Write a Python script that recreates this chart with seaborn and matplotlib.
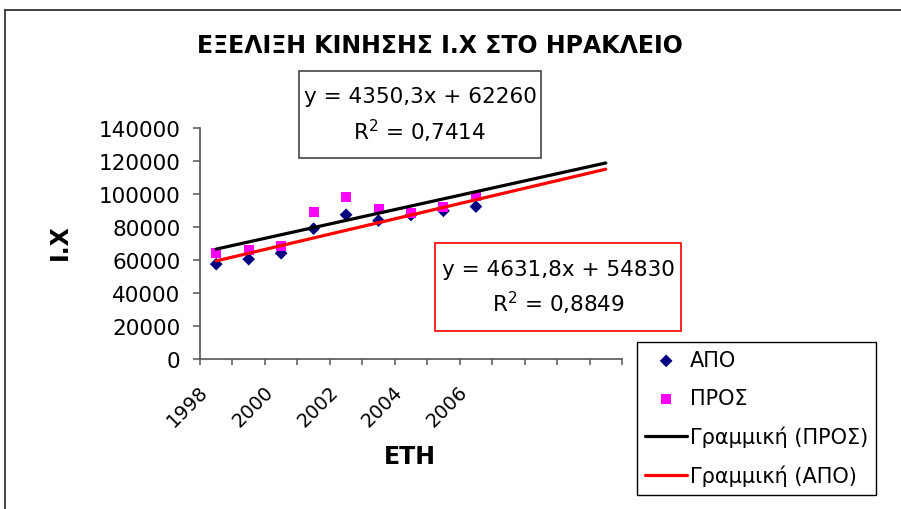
import numpy as np
import pandas as pd
import matplotlib
matplotlib.use("Agg")
import matplotlib.pyplot as plt
import seaborn as sns
from matplotlib.patches import Rectangle
from matplotlib.lines import Line2D
from matplotlib.transforms import ScaledTranslation

# ---- data -------------------------------------------------------------
years = [1998, 1999, 2000, 2001, 2002, 2003, 2004, 2005, 2006]
apo = [57500, 60500, 64100, 79000, 87400, 83900, 87300, 89800, 92400]
pros = [64300, 66300, 68300, 89000, 97900, 91200, 88500, 92000, 98600]
tick_years = [1998, 2000, 2002, 2004, 2006]
y_ticks = [0, 20000, 40000, 60000, 80000, 100000, 120000, 140000]

# linear trend (slope, intercept, R^2) and forward forecast periods
trend_pros = (4350.3, 62260, 0.7414)
trend_apo = (4631.8, 54830, 0.8849)
forecast_periods = 4

# ---- style ------------------------------------------------------------
sns.set_theme(style="white")
plt.rcParams["font.family"] = ["DejaVu Sans"]
plt.rcParams["mathtext.fontset"] = "dejavusans"
plt.rcParams["text.color"] = "black"
plt.rcParams["axes.labelcolor"] = "black"
plt.rcParams["xtick.color"] = "black"
plt.rcParams["ytick.color"] = "black"

W, H = 901, 510
fig = plt.figure(figsize=(W / 100, H / 100), dpi=100)
fig.patch.set_facecolor("white")


def fx(px):
    return px / W


def fy(py):
    return 1 - py / H


ax = fig.add_axes([fx(200), fy(360), fx(622) - fx(200), fy(129) - fy(360)])
ax.set_facecolor("white")

idx = np.arange(1, len(years) + 1)
pts = pd.DataFrame({"x": idx, "ΑΠΟ": apo, "ΠΡΟΣ": pros})

n_total = len(years) + forecast_periods
xt = np.arange(1, n_total + 1)
trend = pd.DataFrame({
    "x": xt,
    "Γραμμική (ΠΡΟΣ)": trend_pros[0] * xt + trend_pros[1],
    "Γραμμική (ΑΠΟ)": trend_apo[0] * xt + trend_apo[1],
})

# ---- marks ------------------------------------------------------------
sns.scatterplot(data=pts, x="x", y="ΑΠΟ", marker="D", color="#000080",
                s=42, edgecolor="none", linewidth=0, ax=ax, label="ΑΠΟ", zorder=2)
sns.scatterplot(data=pts, x="x", y="ΠΡΟΣ", marker="s", color="#FF00FF",
                s=52, edgecolor="none", linewidth=0, ax=ax, label="ΠΡΟΣ", zorder=2)
sns.lineplot(data=trend, x="x", y="Γραμμική (ΑΠΟ)", color="#FF0000",
             linewidth=2.3, ax=ax, label="Γραμμική (ΑΠΟ)", zorder=3)
sns.lineplot(data=trend, x="x", y="Γραμμική (ΠΡΟΣ)", color="black",
             linewidth=2.3, ax=ax, label="Γραμμική (ΠΡΟΣ)", zorder=3)

# ---- axes -------------------------------------------------------------
ax.set_xlim(0.5, n_total + 0.5)
ax.set_ylim(0, 140000)
ax.set_yticks(y_ticks)
ax.set_yticklabels([str(v) for v in y_ticks])
ax.set_xticks([years.index(y) + 1 for y in tick_years])
ax.set_xticklabels([str(y) for y in tick_years], rotation=45, ha="right",
                   va="center", rotation_mode="anchor")
ax.set_xticks(np.arange(0.5, n_total + 1, 1.0), minor=True)

axis_col = "#555555"
for side in ("top", "right"):
    ax.spines[side].set_visible(False)
for side in ("left", "bottom"):
    ax.spines[side].set_color(axis_col)
    ax.spines[side].set_linewidth(1.2)

ax.tick_params(axis="x", which="major", bottom=True, length=0, pad=21,
               labelsize=14, labelcolor="black")
ax.tick_params(axis="x", which="minor", bottom=True, length=4, width=1.1,
               color=axis_col, direction="out")
ax.tick_params(axis="y", which="major", left=True, length=5, width=1.1,
               color=axis_col, direction="out", pad=9, labelsize=15.5,
               labelcolor="black")
shift = ScaledTranslation(-11 / 100, 0, fig.dpi_scale_trans)
for lab in ax.get_xticklabels():
    lab.set_transform(lab.get_transform() + shift)

ax.set_xlabel("")
ax.set_ylabel("")
fig.text(fx(410), fy(457), "ΕΤΗ", ha="center", va="center",
         fontsize=17, fontweight="bold", color="black")
fig.text(fx(60), fy(242), "Ι.Χ", ha="center", va="center", rotation=90,
         fontsize=17, fontweight="bold", color="black")
fig.text(fx(440), fy(46), "ΕΞΕΛΙΞΗ ΚΙΝΗΣΗΣ Ι.Χ ΣΤΟ ΗΡΑΚΛΕΙΟ", ha="center",
         va="center", fontsize=17, fontweight="bold", color="black")

# ---- trend equation boxes --------------------------------------------
def fmt(v, nd):
    return f"{v:.{nd}f}".replace(".", ",")


def eq_box(x0, y0, x1, y1, tr, edge):
    fig.add_artist(Rectangle((fx(x0), fy(y1)), fx(x1) - fx(x0), fy(y0) - fy(y1),
                             transform=fig.transFigure, facecolor="white",
                             edgecolor=edge, linewidth=1.2, zorder=5))
    cx = fx((x0 + x1) / 2)
    h = y1 - y0
    fig.text(cx, fy(y0 + h * 0.29), f"y = {fmt(tr[0], 1)}x + {tr[1]}",
             ha="center", va="center", fontsize=15.5, color="black", zorder=6)
    fig.text(cx, fy(y0 + h * 0.68), f"R$^2$ = {fmt(tr[2], 4)}",
             ha="center", va="center", fontsize=15.5, color="black", zorder=6)


eq_box(299, 72, 541, 159, trend_pros, "#444444")
eq_box(435, 244, 681, 332, trend_apo, "#FF0000")

# ---- legend ----------------------------------------------------------
handles, labels = ax.get_legend_handles_labels()
order = ["ΑΠΟ", "ΠΡΟΣ", "Γραμμική (ΠΡΟΣ)", "Γραμμική (ΑΠΟ)"]
hmap = dict(zip(labels, handles))
leg = ax.legend([hmap[k] for k in order], order, loc="upper left",
                bbox_to_anchor=(fx(637), fy(343)), bbox_transform=fig.transFigure,
                frameon=True, fancybox=False, edgecolor="black", framealpha=1,
                fontsize=15, handlelength=2.0, handletextpad=0.12,
                labelspacing=0.85, borderpad=0.4, borderaxespad=0,
                scatterpoints=1)
leg.get_frame().set_linewidth(1.0)
for t in leg.get_texts():
    t.set_color("black")

# ---- outer chart border -------------------------------------------
border_col = "#333333"
fig.add_artist(Line2D([fx(5), fx(5)], [fy(11), 0], transform=fig.transFigure,
                      color=border_col, linewidth=1.3))
fig.add_artist(Line2D([fx(5), 1], [fy(11), fy(11)], transform=fig.transFigure,
                      color=border_col, linewidth=1.3))

fig.savefig("out.png", dpi=100)
